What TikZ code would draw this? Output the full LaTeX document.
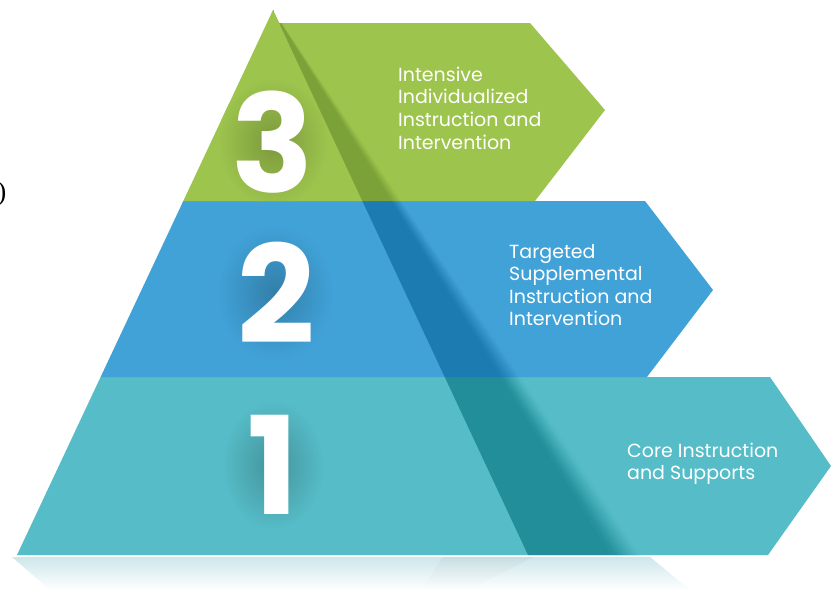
\documentclass[tikz,border=0pt]{standalone}
\usepackage{fontspec}
\setmainfont{Poppins}
\newfontfamily\parenfont{Liberation Serif}
\definecolor{greenc}{HTML}{9DC44D}
\definecolor{greend}{HTML}{7AA238}
\definecolor{bluec}{HTML}{41A2D8}
\definecolor{blued}{HTML}{1C7BB1}
\definecolor{tealc}{HTML}{56BDC8}
\definecolor{teald}{HTML}{218E9A}
\definecolor{reflc}{HTML}{CDE7EC}
\begin{document}
\begin{tikzpicture}[x=1pt,y=-1pt,
  digit/.style={inner sep=0pt,text=white,font=\fontsize{136}{136}\selectfont\bfseries},
  lbl/.style={inner sep=0pt,anchor=base west,text=white,font=\fontsize{19}{22}\selectfont}]
\useasboundingbox (0,0) rectangle (832,590);
\fill[white] (0,0) rectangle (832,590);

% reflection below the pyramid
\shade[top color=reflc, bottom color=white] (12,557) -- (650,557) -- (690,590) -- (50,590) -- cycle;
\shade[top color=reflc!80!gray!90, bottom color=white, opacity=0.5] (443,557) -- (533,557) -- (470,590) -- (421,590) -- cycle;

% bands
\def\tealpath{(100.6,377) -- (770,377) -- (831,466) -- (768,555) -- (17,555) -- cycle}
\def\bluepath{(183.3,201) -- (645,201) -- (713,290) -- (647,377) -- (100.6,377) -- cycle}
\def\greenpath{(273,10) -- (279.1,23) -- (530,23) -- (605,110) -- (535,201) -- (183.3,201) -- cycle}

\fill[tealc] \tealpath;
\fill[bluec] \bluepath;
\fill[greenc] \greenpath;

% shadow wedges and digit halos per band
\foreach \bp/\base/\dark/\cx/\cy/\rx/\ry in {\tealpath/tealc/teald/273/465/52/66, \bluepath/bluec/blued/275/293/58/68, \greenpath/greenc/greend/273/142/55/64}{
  \begin{scope}
    \clip \bp;
    \shade[inner color=\base!78!black, outer color=\base] (\cx,\cy) ellipse (\rx pt and \ry pt);
    \fill[\dark] (273,10) -- (528,555) -- (612,555) -- cycle;
    \foreach \i in {0,...,13}{
      \pgfmathsetmacro\xa{612+2*\i}
      \pgfmathsetmacro\xb{\xa+2.5}
      \pgfmathsetmacro\pp{100-(\i+0.5)*100/14}
      \fill[\dark!\pp!\base] (273,10) -- (\xa,555) -- (\xb,555) -- cycle;
    }
  \end{scope}
}

% digits
\node[digit] (d3) at (273,142.5) {3};
\node[digit] (d2) at (276,292.5) {2};
\node[digit] (d1) at (273,465) {1};

% labels
\node[lbl] (t3a) at (398,81) {Intensive};
\node[lbl] (t3b) at (398,103.7) {Individualized};
\node[lbl] (t3c) at (398,126.3) {Instruction and};
\node[lbl] (t3d) at (398,149) {Intervention};

\node[lbl] (t2a) at (509,258) {Targeted};
\node[lbl] (t2b) at (509,280.5) {Supplemental};
\node[lbl] (t2c) at (509,303) {Instruction and};
\node[lbl] (t2d) at (509,325.5) {Intervention};

\node[lbl] (t1a) at (627,457) {Core Instruction};
\node[lbl] (t1b) at (627,479.5) {and Supports};

% cut-off parenthesis at the left edge
\node[inner sep=0pt,anchor=east,font=\parenfont\fontsize{27}{27}\selectfont] (paren) at (6.5,194) {)};
\end{tikzpicture}
\end{document}
